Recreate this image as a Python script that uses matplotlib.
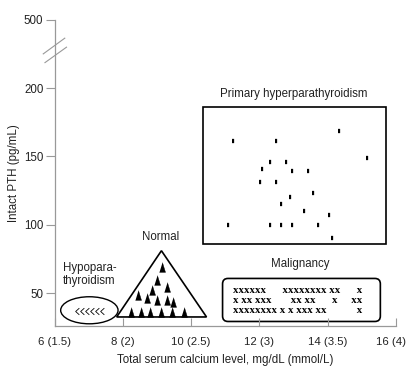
import matplotlib
matplotlib.use("Agg")
import matplotlib.pyplot as plt
import matplotlib.transforms as mtransforms
from matplotlib.patches import Rectangle, Ellipse, Polygon, FancyBboxPatch

plt.rcParams['font.family'] = ['Liberation Sans', 'DejaVu Sans']

# axis ticks
x_ticks = [6, 8, 10, 12, 14, 16]
x_tick_labels = ['6 (1.5)', '8 (2)', '10 (2.5)', '12 (3)', '14 (3.5)', '16 (4)']
y_ticks = [50, 100, 150, 200, 250]
y_tick_labels = ['50', '100', '150', '200', '500']   # 500 sits above the axis break

# primary hyperparathyroidism
hyper_ca = [11.23, 12.49, 14.33, 15.14, 12.32, 12.79, 12.07, 12.95, 13.41, 12.01, 12.49,
            13.57, 12.89, 12.64, 13.31, 14.03, 11.08, 12.32, 12.64, 12.95, 13.72, 14.13]
hyper_pth = [161, 161, 169, 149, 146, 146, 141, 139, 139, 131, 131,
             123, 120, 115, 110, 107, 100, 100, 100, 100, 100, 90]

# normal
normal_ca = [9.15, 9.01, 9.30, 8.86, 8.44, 8.71, 9.00, 9.28, 9.47,
             8.23, 8.52, 8.81, 9.11, 9.45, 9.78]
normal_pth = [69, 59.4, 54.6, 52.2, 48.6, 46.2, 44.9, 44.9, 43.7,
              36.4, 36.4, 36.4, 36.4, 36.4, 36.4]

# hypoparathyroidism
hypo_ca = [6.66, 6.81, 6.95, 7.10, 7.25, 7.39]
hypo_pth = [37, 37, 37, 37, 37, 37]

# malignancy, drawn as rows of x
malig_rows = ["xxxxxx      xxxxxxxx xx      x",
              "x xx xxx       xx xx      x     xx",
              "xxxxxxxx x x xxx xx           x"]
malig_row_pth = [52.2, 44.4, 37.2]
malig_left_ca = 11.23

fig = plt.figure(figsize=(4.1, 3.82), dpi=100)
ax = fig.add_axes([0.133, 0.147, 0.833, 0.801])

ax.set_xlim(6, 16)
ax.set_ylim(26, 250)
for s in ['top', 'right']:
    ax.spines[s].set_visible(False)
for s in ['left', 'bottom']:
    ax.spines[s].set_color('#999999')
    ax.spines[s].set_linewidth(0.9)

ax.set_xticks(x_ticks)
ax.set_xticklabels(x_tick_labels)
ax.set_yticks(y_ticks)
ax.set_yticklabels(y_tick_labels)
ax.tick_params(axis='x', direction='in', length=6, width=0.8, color='#999999',
               pad=8, labelsize=8.2, labelcolor='#222222')
ax.tick_params(axis='y', direction='out', length=6.5, width=0.8, color='#999999',
               pad=1.5, labelsize=8.3, labelcolor='#222222')
# last x label sits a little left so it stays inside the figure
last = ax.get_xticklabels()[-1]
last.set_transform(last.get_transform() +
                   mtransforms.ScaledTranslation(-5 / 100, 0, fig.dpi_scale_trans))
ax.set_xlabel('Total serum calcium level, mg/dL (mmol/L)', fontsize=8.3,
              color='#222222', labelpad=5)
ax.set_ylabel('Intact PTH (pg/mL)', fontsize=8.3, color='#222222', labelpad=3)

# axis break marks
ax.plot([5.67, 6.30], [225.1, 236.6], color='#999999', lw=0.8, clip_on=False)
ax.plot([5.72, 6.35], [218.7, 230.0], color='#999999', lw=0.8, clip_on=False)

# primary hyperparathyroidism
ax.add_patch(Rectangle((10.35, 86), 5.35, 100, fill=False, ec='black', lw=1.2))
bar = [(-0.5, -1), (0.5, -1), (0.5, 1), (-0.5, 1)]
ax.plot(hyper_ca, hyper_pth, ls='none', marker=bar, ms=3.4, color='black', mew=0.2)
ax.text(13.0, 196, 'Primary hyperparathyroidism', ha='center', va='center',
        fontsize=8.3, color='#222222')

# normal
ax.add_patch(Polygon([(7.82, 32.5), (10.45, 32.5), (9.13, 81)], closed=True,
                     fill=False, ec='black', lw=1.2, joinstyle='miter'))
tri = [(-0.62, -1), (0.62, -1), (0, 1)]
ax.plot(normal_ca, normal_pth, ls='none', marker=tri, ms=7, color='black', mew=0.3)
ax.text(9.12, 91, 'Normal', ha='center', va='center', fontsize=8.3, color='#222222')

# hypoparathyroidism
ax.add_patch(Ellipse((7.02, 37.4), 1.68, 19.8, fill=False, ec='black', lw=1.0))
chev = [(0.55, 1), (-0.55, 0), (0.55, -1)]
ax.plot(hypo_ca, hypo_pth, ls='none', marker=chev, ms=4.8, mfc='none',
        mec='black', mew=0.6)
ax.text(6.24, 63.8, 'Hypopara-\nthyroidism', ha='left', va='center',
        fontsize=8.3, color='#222222', linespacing=1.1)

# malignancy
box = FancyBboxPatch((10.92, 29.2), 4.62, 31.5,
                     boxstyle='round,pad=0,rounding_size=0.16',
                     mutation_aspect=25, fill=False, ec='black', lw=1.2)
ax.add_patch(box)
for row, y in zip(malig_rows, malig_row_pth):
    ax.text(malig_left_ca, y, row, ha='left', va='center', fontsize=7.8,
            family='Liberation Serif', fontweight='bold', color='black')
ax.text(13.2, 71, 'Malignancy', ha='center', va='center', fontsize=8.3,
        color='#222222')

fig.savefig('out.png', dpi=100)
